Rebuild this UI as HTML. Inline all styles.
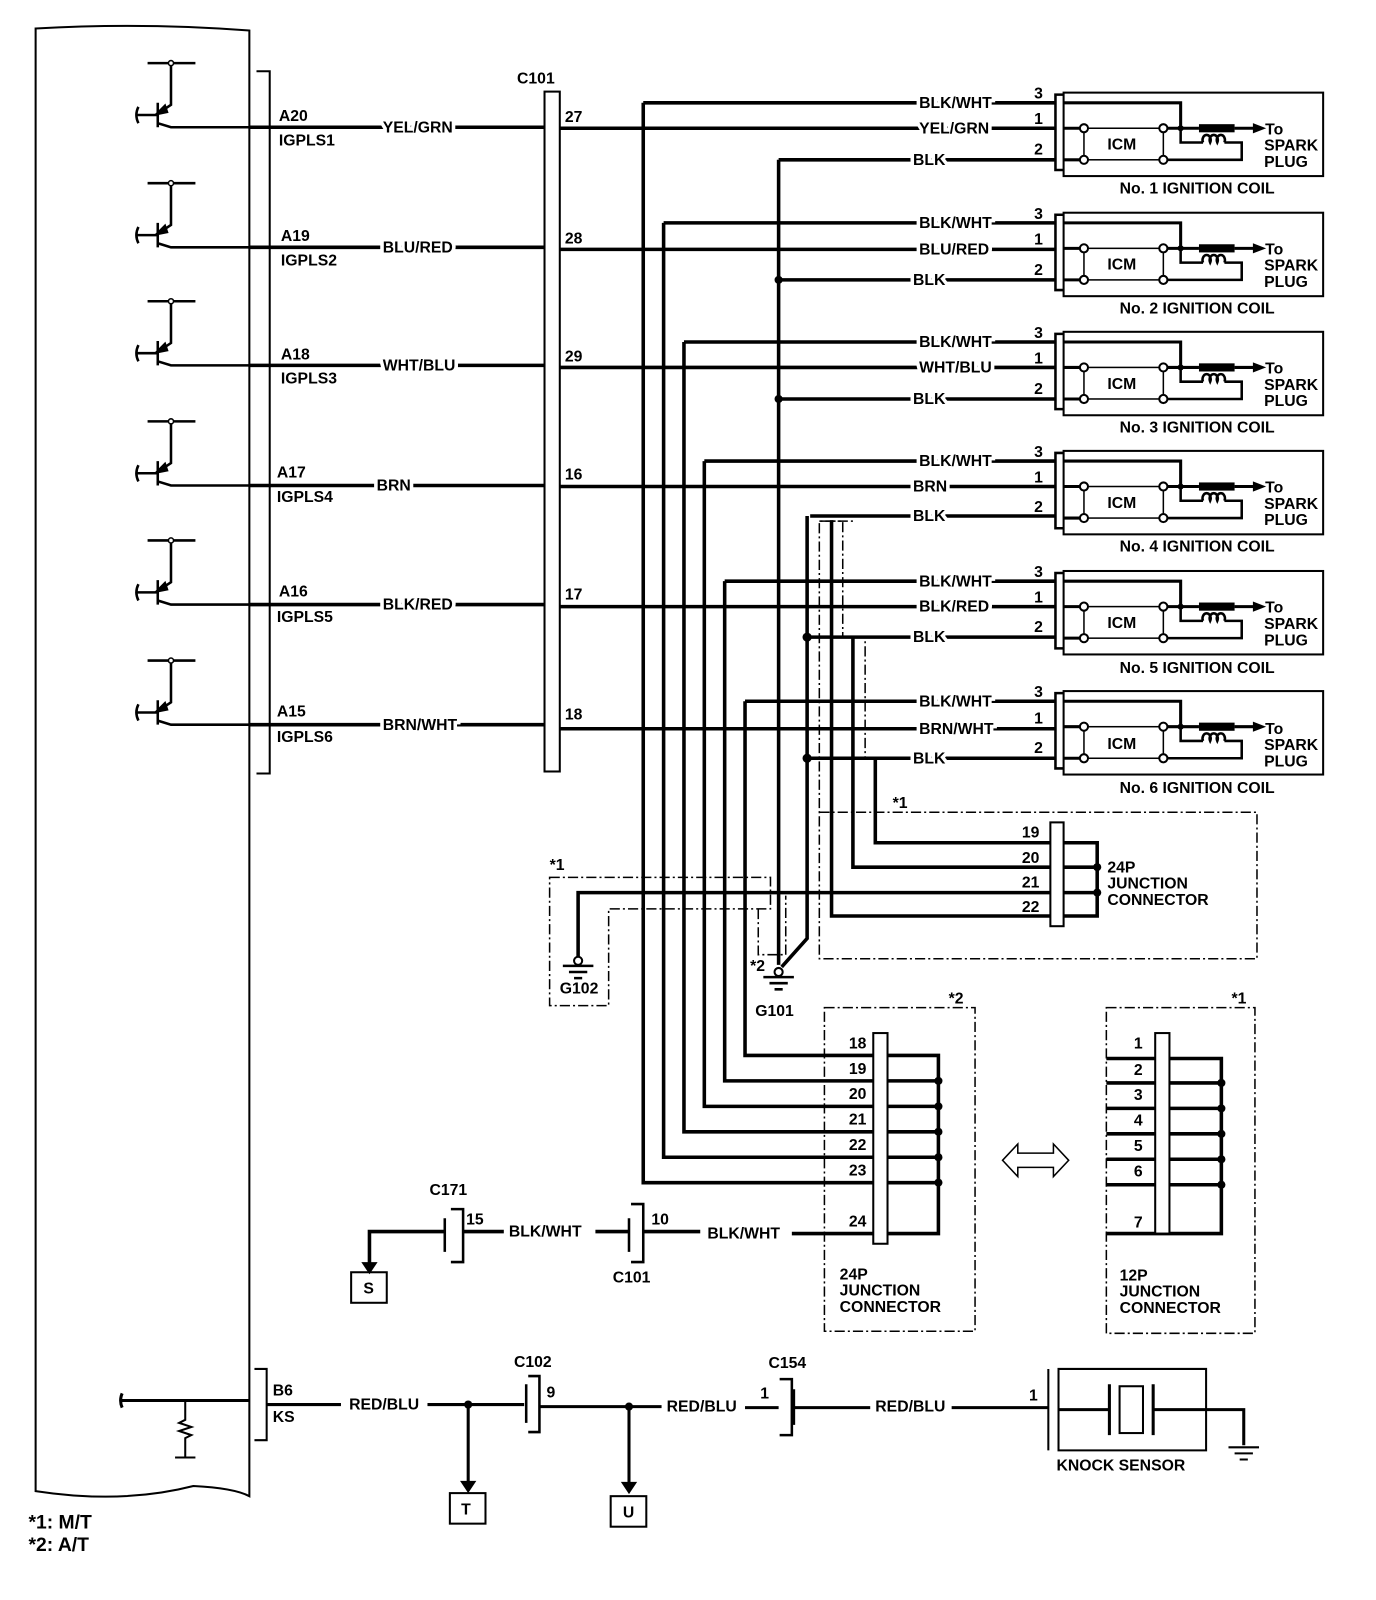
<!DOCTYPE html>
<html><head><meta charset="utf-8"><style>
html,body{margin:0;padding:0;background:#fff}
svg{display:block}
text{font-family:"Liberation Sans",Arial,sans-serif;font-weight:bold;font-size:15.5px;fill:#000}
.h{stroke:#fff;stroke-width:7px;paint-order:stroke}
</style></head><body>
<svg width="1376" height="1600" viewBox="0 0 1376 1600" xmlns="http://www.w3.org/2000/svg">
<defs>
<g id="coil" fill="none" stroke="#000">
 <rect x="1045" y="-10" width="255" height="82" stroke-width="2"/>
 <path d="M1045,-8 H1037 V66 H1045" stroke-width="2.5"/>
 <path d="M1045,0 H1160 V25" stroke-width="3"/>
 <path d="M1045,25 H1062 M1045,56 H1062" stroke-width="3"/>
 <rect x="1065" y="25" width="78" height="31" stroke-width="1.5"/>
 <circle cx="1065" cy="25" r="4" fill="#fff" stroke-width="2"/><circle cx="1065" cy="56" r="4" fill="#fff" stroke-width="2"/>
 <circle cx="1143" cy="25" r="4" fill="#fff" stroke-width="2"/><circle cx="1143" cy="56" r="4" fill="#fff" stroke-width="2"/>
 <path d="M1147,25 H1178 M1213,25 H1232" stroke-width="3"/>
 <rect x="1178" y="21" width="35" height="8" fill="#000" stroke="none"/>
 <polygon points="1231,20 1244,25 1231,30" fill="#000" stroke="none"/>
 <circle cx="1160" cy="25" r="3" fill="#000" stroke="none"/>
 <path d="M1160,25 V39 H1182 M1182,39 a4,5 0 1 1 7,0 a4,5 0 1 1 7,0 a4,5 0 1 1 7,0 M1203,39 H1220 V56 H1147" stroke-width="2.5"/>
</g>
<g id="tr" fill="none" stroke="#000" stroke-width="2.5">
 <path d="M145,-63 H192"/><circle cx="168" cy="-63" r="2.5" fill="#fff" stroke-width="1.5"/>
 <path d="M168,-61 V-22 L156,-14"/>
 <polygon points="154,-13 162,-21 164,-15" fill="#000"/>
 <path d="M155,-24 V0 M133,-12 H155 M136,-20 q-4,8 0,16 M155,-4 L168,0 H245"/>
</g>
<g id="gnd" fill="none" stroke="#000" stroke-width="2.5">
 <circle cx="0" cy="0" r="4" fill="#fff" stroke-width="2"/>
 <path d="M-15,5 H15 M-9,11 H9 M-4,17 H4"/>
</g>
</defs>
<g transform="scale(1.0178)">
<path d="M35,28 Q140,22 245,30 L245,1470 Q230,1462 190,1460 Q120,1478 35,1465 Z" fill="none" stroke="#000" stroke-width="2"/>
<use href="#tr" y="125"/><use href="#tr" y="243"/><use href="#tr" y="359"/>
<use href="#tr" y="477"/><use href="#tr" y="594"/><use href="#tr" y="712"/>
<path d="M252,70 H265 V760 H252" fill="none" stroke="#000" stroke-width="2"/>
<rect x="535" y="90" width="15" height="668" fill="none" stroke="#000" stroke-width="2"/>
<text x="508" y="82">C101</text>
<g stroke="#000" stroke-width="3.5" fill="none">
 <path d="M245,125 H535 M245,243 H535 M245,359 H535 M245,477 H535 M245,594 H535 M245,712 H535"/>
 <path d="M550,126 H1037 M550,245 H1037 M550,361 H1037 M550,478 H1037 M550,596 H1037 M550,716 H1037"/>
 <path d="M632,101 H1037 M632,101 V1162 H858"/>
 <path d="M652,219 H1037 M652,219 V1137 H858"/>
 <path d="M672,336 H1037 M672,336 V1112 H858"/>
 <path d="M692,453 H1037 M692,453 V1087 H858"/>
 <path d="M712,571 H1037 M712,571 V1062 H858"/>
 <path d="M732,689 H1037 M732,689 V1037 H858"/>
 <path d="M765,157 H1037 M765,157 V948 M765,275 H1037 M765,392 H1037"/>
 <path d="M796,507 H1037 M793,507 V922 L768,950 M793,626 H1037 M793,745 H1037"/>
 <path d="M817,511 V900 H1032"/>
 <path d="M838,626 V852 H1032"/>
 <path d="M860,745 V828 H1032"/>
 <path d="M568,940 V877 H1032"/>
 <path d="M872,1037 H922 V1212 H872 M872,1062 H922 M872,1087 H922 M872,1112 H922 M872,1137 H922 M872,1162 H922"/>
 <path d="M1087,1040 H1200 V1212 H1087 M1087,1064 H1200 M1087,1089 H1200 M1087,1114 H1200 M1087,1139 H1200 M1087,1164 H1200"/>
 <path d="M1045,828 H1078 V900 H1045 M1045,852 H1078 M1045,877 H1078"/>
 <path d="M363,1246 V1210 H437 M455,1210 H495 M585,1210 H618 M632,1210 H688 M778,1212 H858"/>
</g>
<g fill="#000">
 <circle cx="765" cy="275" r="4"/><circle cx="765" cy="392" r="4"/>
 <circle cx="793" cy="626" r="4.5"/><circle cx="793" cy="745" r="4.5"/>
 <circle cx="1078" cy="852" r="4"/><circle cx="1078" cy="877" r="4"/>
 <circle cx="922" cy="1062" r="4"/><circle cx="922" cy="1087" r="4"/><circle cx="922" cy="1112" r="4"/><circle cx="922" cy="1137" r="4"/><circle cx="922" cy="1162" r="4"/>
 <circle cx="1200" cy="1064" r="4"/><circle cx="1200" cy="1089" r="4"/><circle cx="1200" cy="1114" r="4"/><circle cx="1200" cy="1139" r="4"/><circle cx="1200" cy="1164" r="4"/>
</g>
<g fill="none" stroke="#000" stroke-width="1.5" stroke-dasharray="10,3,2,3">
 <path d="M805,798 H1235 V942 H805 V512 H828 V626 H850 V745"/>
 <path d="M805,512 H840"/>
 <path d="M540,862 H757 V893 H598 V988 H540 Z"/>
 <path d="M745,893 V938 H772 V880"/>
 <path d="M810,990 H958 V1308 H810 Z"/>
 <path d="M1087,990 H1233 V1310 H1087 Z"/>
</g>
<use href="#gnd" x="765" y="955"/><use href="#gnd" x="568" y="944"/>
<use href="#coil" y="101"/><use href="#coil" y="219"/><use href="#coil" y="336"/>
<use href="#coil" y="453"/><use href="#coil" y="571"/><use href="#coil" y="689"/>
<rect x="1032" y="808" width="13" height="102" fill="#fff" stroke="#000" stroke-width="2"/>
<rect x="858" y="1015" width="14" height="207" fill="#fff" stroke="#000" stroke-width="2"/>
<rect x="1135" y="1015" width="14" height="197" fill="#fff" stroke="#000" stroke-width="2"/>
<polygon points="985,1140 1000,1124 1000,1133 1035,1133 1035,1124 1050,1140 1035,1156 1035,1147 1000,1147 1000,1156" fill="none" stroke="#000" stroke-width="1.5"/>
<g fill="none" stroke="#000" stroke-width="2.5">
 <path d="M437,1197 V1230 M443,1188 H455 V1240 H443"/>
 <path d="M618,1197 V1230 M620,1183 H632 V1240 H620"/>
 <rect x="345" y="1250" width="35" height="30" stroke-width="2"/>
 <rect x="442" y="1467" width="35" height="30" stroke-width="2"/>
 <rect x="600" y="1470" width="35" height="30" stroke-width="2"/>
</g>
<polygon points="355,1240 371,1240 363,1252" fill="#000"/>
<g fill="none" stroke="#000" stroke-width="3">
 <path d="M118,1376 H245 M120,1369 q-3,7 0,14"/>
 <path d="M182,1376 V1395 l-6,3 12,4 -12,4 12,4 -6,3 V1432 M172,1432 H192" stroke-width="2"/>
 <path d="M250,1345 H262 V1415 H250" stroke-width="2"/>
 <path d="M262,1380 H335 M420,1380 H515 M530,1382 H650 M732,1383 H765 M780,1383 H855 M935,1383 H1030"/>
 <path d="M460,1380 V1458 M618,1382 V1458"/>
 <path d="M517,1360 V1398 M519,1352 H530 V1407 H519" stroke-width="2.5"/>
 <path d="M766,1355 H778 V1410 H766 M780,1365 V1400" stroke-width="2.5"/>
 <path d="M1030,1345 V1425 M1040,1345 H1185 V1425 H1040 Z" stroke-width="2"/>
 <path d="M1040,1385 H1090 M1090,1360 V1410 M1133,1360 V1410 M1133,1385 H1222 V1420"/>
 <rect x="1100" y="1362" width="23" height="46" stroke-width="2"/>
 <path d="M1207,1422 H1237 M1213,1428 H1231 M1218,1434 H1226" stroke-width="2"/>
</g>
<circle cx="460" cy="1380" r="4"/><circle cx="618" cy="1382" r="4"/>
<polygon points="452,1455 468,1455 460,1467" fill="#000"/><polygon points="610,1456 626,1456 618,1468" fill="#000"/>
<text x="274" y="119">A20</text><text x="274" y="143">IGPLS1</text>
<text x="276" y="237">A19</text><text x="276" y="261">IGPLS2</text>
<text x="276" y="353">A18</text><text x="276" y="377">IGPLS3</text>
<text x="272" y="469">A17</text><text x="272" y="493">IGPLS4</text>
<text x="274" y="586">A16</text><text x="272" y="611">IGPLS5</text>
<text x="272" y="704">A15</text><text x="272" y="729">IGPLS6</text>
<text class="h" x="376" y="130">YEL/GRN</text>
<text class="h" x="376" y="248">BLU/RED</text>
<text class="h" x="376" y="364">WHT/BLU</text>
<text class="h" x="370" y="482">BRN</text>
<text class="h" x="376" y="599">BLK/RED</text>
<text class="h" x="376" y="717">BRN/WHT</text>
<text x="555" y="120">27</text><text x="555" y="239">28</text><text x="555" y="355">29</text>
<text x="555" y="471">16</text><text x="555" y="589">17</text><text x="555" y="707">18</text>
<g>
<text class="h" x="903" y="106">BLK/WHT</text><text class="h" x="903" y="131">YEL/GRN</text><text class="h" x="897" y="162">BLK</text>
<text x="1016" y="97">3</text><text x="1016" y="122">1</text><text x="1016" y="152">2</text>
<text x="1088" y="147">ICM</text><text x="1243" y="132">To</text><text x="1242" y="148">SPARK</text><text x="1242" y="164">PLUG</text>
<text x="1100" y="190">No. 1 IGNITION COIL</text>
<text class="h" x="903" y="224">BLK/WHT</text><text class="h" x="903" y="250">BLU/RED</text><text class="h" x="897" y="280">BLK</text>
<text x="1016" y="215">3</text><text x="1016" y="240">1</text><text x="1016" y="270">2</text>
<text x="1088" y="265">ICM</text><text x="1243" y="250">To</text><text x="1242" y="266">SPARK</text><text x="1242" y="282">PLUG</text>
<text x="1100" y="308">No. 2 IGNITION COIL</text>
<text class="h" x="903" y="341">BLK/WHT</text><text class="h" x="903" y="366">WHT/BLU</text><text class="h" x="897" y="397">BLK</text>
<text x="1016" y="332">3</text><text x="1016" y="357">1</text><text x="1016" y="387">2</text>
<text x="1088" y="382">ICM</text><text x="1243" y="367">To</text><text x="1242" y="383">SPARK</text><text x="1242" y="399">PLUG</text>
<text x="1100" y="425">No. 3 IGNITION COIL</text>
<text class="h" x="903" y="458">BLK/WHT</text><text class="h" x="897" y="483">BRN</text><text class="h" x="897" y="512">BLK</text>
<text x="1016" y="449">3</text><text x="1016" y="474">1</text><text x="1016" y="503">2</text>
<text x="1088" y="499">ICM</text><text x="1243" y="484">To</text><text x="1242" y="500">SPARK</text><text x="1242" y="516">PLUG</text>
<text x="1100" y="542">No. 4 IGNITION COIL</text>
<text class="h" x="903" y="576">BLK/WHT</text><text class="h" x="903" y="601">BLK/RED</text><text class="h" x="897" y="631">BLK</text>
<text x="1016" y="567">3</text><text x="1016" y="592">1</text><text x="1016" y="621">2</text>
<text x="1088" y="617">ICM</text><text x="1243" y="602">To</text><text x="1242" y="618">SPARK</text><text x="1242" y="634">PLUG</text>
<text x="1100" y="661">No. 5 IGNITION COIL</text>
<text class="h" x="903" y="694">BLK/WHT</text><text class="h" x="903" y="721">BRN/WHT</text><text class="h" x="897" y="750">BLK</text>
<text x="1016" y="685">3</text><text x="1016" y="711">1</text><text x="1016" y="740">2</text>
<text x="1088" y="736">ICM</text><text x="1243" y="721">To</text><text x="1242" y="737">SPARK</text><text x="1242" y="753">PLUG</text>
<text x="1100" y="779">No. 6 IGNITION COIL</text>
</g>
<text x="877" y="794">*1</text>
<text x="1004" y="823">19</text><text x="1004" y="848">20</text><text x="1004" y="872">21</text><text x="1004" y="896">22</text>
<text x="1088" y="857">24P</text><text x="1088" y="873">JUNCTION</text><text x="1088" y="889">CONNECTOR</text>
<text x="540" y="855">*1</text><text x="550" y="976">G102</text>
<text x="737" y="954">*2</text><text x="742" y="998">G101</text>
<text x="932" y="986">*2</text><text x="1210" y="986">*1</text>
<text x="834" y="1030">18</text><text x="834" y="1055">19</text><text x="834" y="1080">20</text><text x="834" y="1105">21</text><text x="834" y="1130">22</text><text x="834" y="1155">23</text><text x="834" y="1205">24</text>
<text x="825" y="1257">24P</text><text x="825" y="1273">JUNCTION</text><text x="825" y="1289">CONNECTOR</text>
<text x="1114" y="1030">1</text><text x="1114" y="1056">2</text><text x="1114" y="1081">3</text><text x="1114" y="1106">4</text><text x="1114" y="1131">5</text><text x="1114" y="1156">6</text><text x="1114" y="1206">7</text>
<text x="1100" y="1258">12P</text><text x="1100" y="1274">JUNCTION</text><text x="1100" y="1290">CONNECTOR</text>
<text x="422" y="1174">C171</text><text x="458" y="1203">15</text>
<text x="500" y="1215">BLK/WHT</text><text x="640" y="1203">10</text><text x="695" y="1217">BLK/WHT</text>
<text x="602" y="1260">C101</text><text x="357" y="1271">S</text>
<text x="268" y="1371">B6</text><text x="268" y="1397">KS</text>
<text x="343" y="1385">RED/BLU</text><text x="505" y="1343">C102</text><text x="537" y="1373">9</text>
<text x="655" y="1387">RED/BLU</text><text x="755" y="1344">C154</text><text x="747" y="1374">1</text>
<text x="860" y="1387">RED/BLU</text><text x="1011" y="1376">1</text>
<text x="1038" y="1445">KNOCK SENSOR</text>
<text x="453" y="1488">T</text><text x="612" y="1491">U</text>
<text x="28" y="1502" style="font-size:19px">*1: M/T</text>
<text x="28" y="1524" style="font-size:19px">*2: A/T</text>
</g>
</svg>
</body></html>
